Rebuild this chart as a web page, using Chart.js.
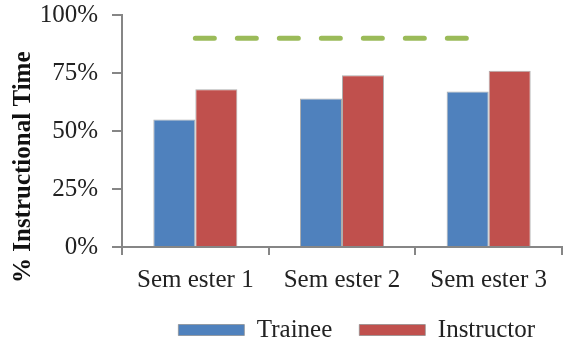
<!DOCTYPE html>
<html>
<head>
<meta charset="utf-8">
<script src="https://cdn.jsdelivr.net/npm/chart.js@4.4.1/dist/chart.umd.min.js"></script>
<style>
  html, body { margin: 0; padding: 0; background: #fff; }
</style>
</head>
<body>
<canvas id="canvas-time" width="564" height="343"></canvas>
<script>
const semesters = ['Sem ester 1', 'Sem ester 2', 'Sem ester 3'];
const trainee = [55, 64, 67];
const instructor = [68, 74, 76];
const goal = [90, 90, 90];

const serif = 'Liberation Serif';
const axisGrey = '#868686';
const barEdge = 'rgba(140, 140, 140, 0.7)';

function drawTime() {
  const ctx = document.getElementById('canvas-time').getContext('2d');
  new Chart(ctx, {
    type: 'bar',
    data: {
      labels: semesters,
      datasets: [
        {
          label: 'Trainee',
          data: trainee,
          backgroundColor: '#4f81bd',
          borderColor: barEdge,
          borderWidth: 1,
          categoryPercentage: 0.573,
          barPercentage: 1,
        },
        {
          label: 'Instructor',
          data: instructor,
          backgroundColor: '#c0504d',
          borderColor: barEdge,
          borderWidth: 1,
          categoryPercentage: 0.573,
          barPercentage: 1,
        },
        {
          type: 'line',
          label: 'Goal',
          data: goal,
          borderColor: '#9bbb59',
          backgroundColor: '#9bbb59',
          borderWidth: 5,
          borderDash: [19, 23],
          borderCapStyle: 'round',
          pointRadius: 0,
          fill: false,
        },
      ],
    },
    options: {
      responsive: false,
      animation: false,
      layout: {
        padding: { top: -18, right: 2, bottom: -9.5, left: 0 },
      },
      plugins: {
        tooltip: { enabled: false },
        title: {
          display: true,
          position: 'left',
          text: '% Instructional Time',
          color: '#111',
          font: { family: serif, size: 25, weight: 'bold', lineHeight: 1.2 },
          padding: { top: 9, bottom: 0 },
        },
        legend: {
          position: 'bottom',
          align: 'end',
          labels: {
            boxWidth: 66,
            boxHeight: 11,
            padding: 27,
            color: '#222',
            font: { family: serif, size: 25 },
            filter: (item) => item.datasetIndex < 2,
          },
        },
      },
      scales: {
        x: {
          grid: {
            drawOnChartArea: false,
            tickLength: 8,
            color: axisGrey,
            lineWidth: 2,
          },
          border: { color: axisGrey, width: 2 },
          ticks: {
            color: '#222',
            padding: 10,
            font: { family: serif, size: 25, lineHeight: 1.2 },
          },
          // keep the labels close to the legend row
          afterFit: (axis) => {
            axis.height = 43.5;
          },
        },
        y: {
          min: 0,
          max: 100,
          grid: {
            drawOnChartArea: false,
            tickLength: 10,
            color: axisGrey,
            lineWidth: 2,
          },
          border: { color: axisGrey, width: 2 },
          ticks: {
            stepSize: 25,
            color: '#222',
            padding: 14,
            font: { family: serif, size: 25, lineHeight: 1.2 },
            callback: (v) => v + '%',
          },
          afterFit: (axis) => {
            axis.width = 83;
            axis.paddingTop = 15;
          },
        },
      },
    },
  });
}

drawTime();
</script>
</body>
</html>
